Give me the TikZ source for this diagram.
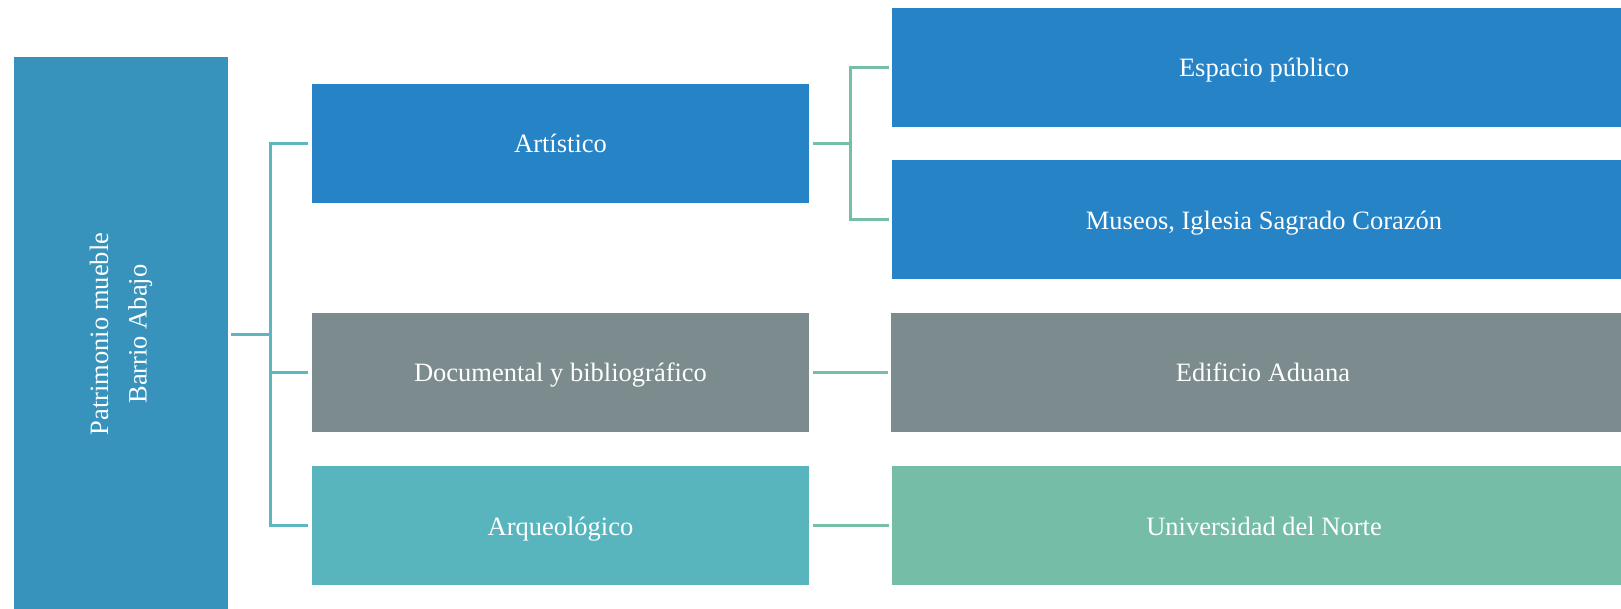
\documentclass[tikz,border=0pt]{standalone}
\usepackage{fontspec}
\setmainfont{Liberation Serif}
\definecolor{cRoot}{HTML}{3793BB}
\definecolor{cBlue}{HTML}{2683C6}
\definecolor{cGray}{HTML}{7C8C8E}
\definecolor{cTeal}{HTML}{58B5BE}
\definecolor{cGreen}{HTML}{75BDA7}
\definecolor{lTeal}{HTML}{5DB6C1}
\definecolor{lGreen}{HTML}{76BEA6}
\begin{document}
\begin{tikzpicture}[x=1pt,y=-1pt,
  box/.style={inner sep=0pt, text=white, align=center,
    font=\fontsize{26.5}{38.5}\selectfont},
  lbox/.style={box, minimum width=497pt, minimum height=119pt, text height=18.5pt, text depth=0pt},
  rbox/.style={box, minimum width=744pt, minimum height=119pt, text height=18.5pt, text depth=0pt},
  conL/.style={draw=lTeal, line width=3pt},
  conR/.style={draw=lGreen, line width=3pt}]
\useasboundingbox (0,0) rectangle (1621,609);
\node[box, fill=cRoot, minimum width=214pt, minimum height=552pt] (root) at (121,333) {};
\node[box, rotate=90] (roottxt) at (121,334) {Patrimonio mueble\\Barrio Abajo};
\node[lbox, fill=cBlue] (art) at (560.5,143.7) {Artístico};
\node[lbox, fill=cGray] (doc) at (560.5,372.6) {Documental y bibliográfico};
\node[lbox, fill=cTeal] (arq) at (560.5,525.8) {Arqueológico};
\node[rbox, fill=cBlue] (esp) at (1264,67.4) {Espacio público};
\node[rbox, fill=cBlue] (mus) at (1264,220) {Museos, Iglesia Sagrado Corazón};
\node[rbox, fill=cGray] (edi) at (1263,372.6) {Edificio Aduana};
\node[rbox, fill=cGreen] (uni) at (1264,525.8) {Universidad del Norte};
% left connectors
\coordinate (j1) at (270,334.8);
\draw[conL] ([xshift=3pt,yshift=-1.8pt]root.east) -- (j1);
\draw[conL] ([xshift=-4pt]art.west) -| (j1);
\draw[conL] ([xshift=-4pt]arq.west) -| (j1);
\draw[conL] (j1) |- ([xshift=-4pt]doc.west);
% right connectors
\coordinate (j2) at (850,143.7);
\draw[conR] ([xshift=4pt]art.east) -- (j2);
\draw[conR] ([xshift=-3pt]esp.west) -| (j2);
\draw[conR] ([xshift=-3pt]mus.west) -| (j2);
\draw[conR] ([xshift=4pt]doc.east) -- ([xshift=-3pt]edi.west);
\draw[conR] ([xshift=4pt]arq.east) -- ([xshift=-3pt]uni.west);
\end{tikzpicture}
\end{document}
